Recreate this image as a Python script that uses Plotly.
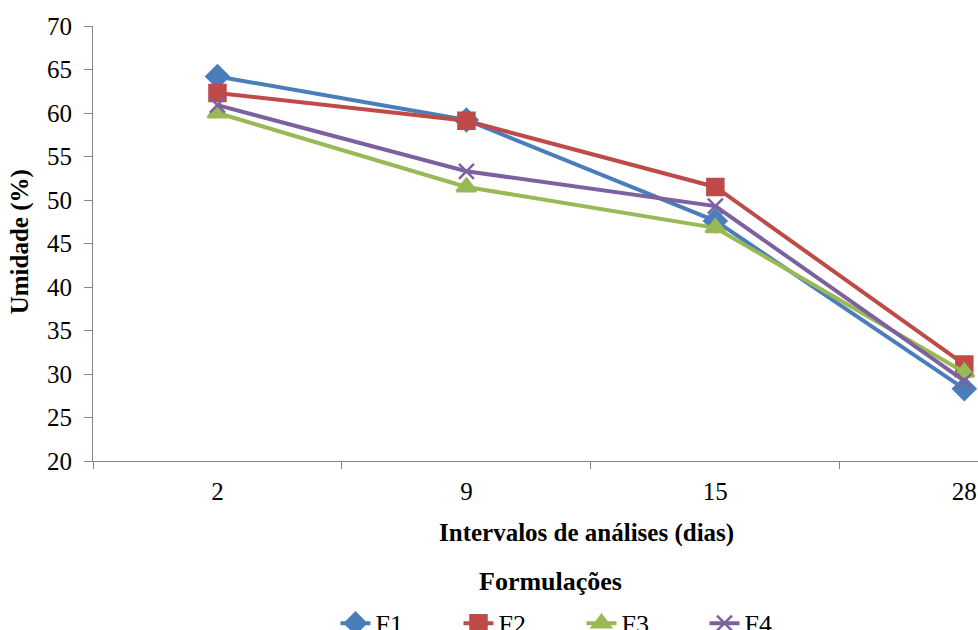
import plotly.graph_objects as go

# Sampling intervals (days) and moisture readings (%) per formulation
dias = ["2", "9", "15", "28"]
f1 = [64.2, 59.2, 47.6, 28.3]
f2 = [62.3, 59.1, 51.5, 31.1]
f3 = [60.0, 51.5, 46.8, 30.2]
f4 = [60.9, 53.3, 49.3, 29.2]

series = [
    ("F1", f1, "#4A7EBB", "diamond", 17),
    ("F2", f2, "#BE4B48", "square", 16),
    ("F3", f3, "#98B954", "triangle-up", 17),
    ("F4", f4, "#7D60A0", "x-thin", 15),
]

FONT = "Liberation Serif, Times New Roman, serif"
AXIS_GRAY = "#868686"

fig = go.Figure()
for name, vals, color, symbol, size in series:
    fig.add_trace(go.Scatter(
        x=dias, y=vals, name=name, mode="lines+markers",
        line=dict(color=color, width=4),
        marker=dict(symbol=symbol, size=size, color=color,
                    line=dict(color=color, width=2.5)),
    ))

fig.update_layout(
    width=978, height=630,
    paper_bgcolor="white", plot_bgcolor="white",
    margin=dict(l=93, r=0, t=26, b=169, autoexpand=False),
    font=dict(family=FONT, size=25, color="#000000"),
    showlegend=True,
    legend=dict(
        orientation="h", x=0.274, xanchor="left", y=-0.319, yanchor="top",
        font=dict(family=FONT, size=26),
        entrywidth=78, entrywidthmode="pixels",
        bgcolor="rgba(0,0,0,0)", tracegroupgap=0,
    ),
    xaxis=dict(
        type="category", range=[-0.5, 3.055],
        showline=True, linecolor=AXIS_GRAY, linewidth=1,
        ticks="outside", tickson="boundaries", ticklen=7, tickcolor=AXIS_GRAY,
        showgrid=False, zeroline=False, ticklabelstandoff=8,
        tickfont=dict(family=FONT, size=25),
    ),
    yaxis=dict(
        range=[20, 70], dtick=5, tick0=20,
        showline=True, linecolor=AXIS_GRAY, linewidth=1,
        ticks="outside", ticklen=8, tickcolor=AXIS_GRAY,
        showgrid=False, zeroline=False, ticklabelstandoff=7,
        tickfont=dict(family=FONT, size=25),
    ),
    annotations=[
        dict(text="<b>Intervalos de análises (dias)</b>", xref="paper", yref="paper",
             x=0.558, y=-0.165, xanchor="center", yanchor="middle", showarrow=False,
             font=dict(family=FONT, size=25)),
        dict(text="<b>Umidade (%)</b>", xref="paper", yref="paper",
             x=-0.0825, y=0.505, xanchor="center", yanchor="middle", showarrow=False,
             textangle=-90, font=dict(family=FONT, size=25)),
        dict(text="<b>Formulações</b>", xref="paper", yref="paper",
             x=0.5175, y=-0.278, xanchor="center", yanchor="middle", showarrow=False,
             font=dict(family=FONT, size=26)),
    ],
)

fig.write_html("out.html")
